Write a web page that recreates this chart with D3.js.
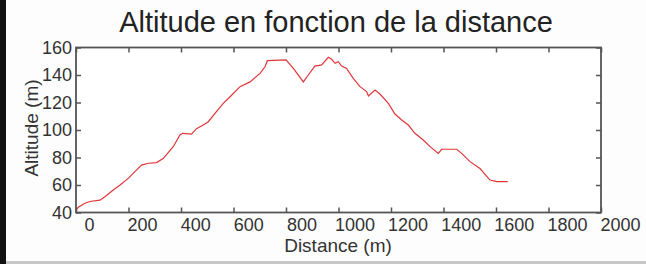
<!DOCTYPE html>
<html>
<head>
<meta charset="utf-8">
<script src="https://cdn.jsdelivr.net/npm/d3@7"></script>
<style>
  body { margin: 0; background: #fdfdfd; }
  svg { display: block; font-family: "Liberation Sans", Arial, sans-serif; }
</style>
</head>
<body>
<svg id="chart" width="646" height="264"></svg>
<script>
// distance (m) and altitude (m)
var distance = [0, 10, 34, 53, 91, 110, 142, 168, 200, 231, 250, 276, 307, 333, 371, 396, 406, 440,
  459, 485, 504, 535, 561, 587, 625, 663, 701, 720, 729, 800, 828, 866, 885, 910, 936, 961, 974,
  987, 999, 1012, 1031, 1056, 1082, 1107, 1114, 1139, 1158, 1190, 1215, 1241, 1266, 1291, 1323,
  1349, 1380, 1393, 1450, 1469, 1501, 1539, 1577, 1603, 1645];
var altitude = [42, 44, 46.7, 48, 49, 51.5, 56.4, 60, 65, 71, 74.5, 75.8, 76.3, 79.4, 88, 96.4, 97.6, 97,
  101, 103.6, 106, 113.3, 119.4, 124.2, 131.5, 135, 141.2, 146, 150.4, 151, 144.8, 135, 140, 146.5, 147.3, 152.9, 151.4,
  148.5, 149.7, 146.5, 144.8, 137.6, 131.5, 127.9, 124.7, 129, 126.2, 119.4, 111.6, 107.3, 103.6, 97.6, 92.7,
  87.9, 83, 86, 86, 83, 77, 72, 63.6, 62.4, 62.4];

var xTicks = [0, 200, 400, 600, 800, 1000, 1200, 1400, 1600, 1800, 2000];
var yTicks = [40, 60, 80, 100, 120, 140, 160];

var title = "Altitude en fonction de la distance";
var xTitle = "Distance (m)";
var yTitle = "Altitude (m)";

var svg = d3.select("#chart");
var pLeft = 76, pRight = 601, pTop = 47.5, pBottom = 212.5;

var x = d3.scaleLinear().domain([0, 2000]).range([pLeft, pRight]);
var y = d3.scaleLinear().domain([40, 160]).range([pBottom, pTop]);
// the tick labels sit a little to the right of their ticks in the picture
var xLab = d3.scaleLinear().domain([0, 2000]).range([89, 620]);

// dark edges of the photo
svg.append("rect").attr("x", 0).attr("y", 0).attr("width", 6).attr("height", 264).attr("fill", "#111");
svg.append("rect").attr("x", 6).attr("y", 261).attr("width", 640).attr("height", 3).attr("fill", "#c8c8c8");

svg.append("rect")
  .attr("x", pLeft).attr("y", pTop)
  .attr("width", pRight - pLeft).attr("height", pBottom - pTop)
  .attr("fill", "#fff");

// inner ticks on four sides
function styleTicks(g) {
  g.select(".domain").remove();
  g.selectAll("line").attr("stroke", "#555").attr("stroke-width", 1.5);
  g.selectAll("text").remove();
}
svg.append("g").attr("transform", "translate(0," + pBottom + ")")
  .call(d3.axisBottom(x).tickValues(xTicks).tickSize(-5)).call(styleTicks);
svg.append("g").attr("transform", "translate(0," + pTop + ")")
  .call(d3.axisTop(x).tickValues(xTicks).tickSize(-5)).call(styleTicks);
svg.append("g").attr("transform", "translate(" + pLeft + ",0)")
  .call(d3.axisLeft(y).tickValues(yTicks).tickSize(-5)).call(styleTicks);
svg.append("g").attr("transform", "translate(" + pRight + ",0)")
  .call(d3.axisRight(y).tickValues(yTicks).tickSize(-5)).call(styleTicks);

// tick labels
var xl = svg.append("g").attr("transform", "translate(0," + pBottom + ")")
  .call(d3.axisBottom(xLab).tickValues(xTicks).tickSize(0).tickPadding(6).tickFormat(d3.format("d")));
xl.select(".domain").remove();
xl.selectAll("text").attr("font-size", 18).attr("fill", "#333");
xl.attr("font-family", null);

var yl = svg.append("g").attr("transform", "translate(" + pLeft + ",0)")
  .call(d3.axisLeft(y).tickValues(yTicks).tickSize(0).tickPadding(4));
yl.select(".domain").remove();
yl.selectAll("text").attr("font-size", 18).attr("fill", "#333");
yl.attr("font-family", null);

// profile line
var line = d3.line()
  .x(function(d, i) { return x(distance[i]); })
  .y(function(d) { return y(d); });

svg.append("path")
  .datum(altitude)
  .attr("d", line)
  .attr("fill", "none")
  .attr("stroke", "#e0363a")
  .attr("stroke-width", 1.2);

// box
svg.append("rect")
  .attr("x", pLeft).attr("y", pTop)
  .attr("width", pRight - pLeft).attr("height", pBottom - pTop)
  .attr("fill", "none")
  .attr("stroke", "#555")
  .attr("stroke-width", 1.8);

svg.append("text")
  .attr("x", 336).attr("y", 32)
  .attr("text-anchor", "middle")
  .attr("font-size", 29)
  .attr("fill", "#222")
  .text(title);

svg.append("text")
  .attr("x", 338).attr("y", 252)
  .attr("text-anchor", "middle")
  .attr("font-size", 19)
  .attr("fill", "#333")
  .text(xTitle);

svg.append("text")
  .attr("transform", "translate(38,128) rotate(-90)")
  .attr("text-anchor", "middle")
  .attr("font-size", 19)
  .attr("fill", "#333")
  .text(yTitle);
</script>
</body>
</html>
